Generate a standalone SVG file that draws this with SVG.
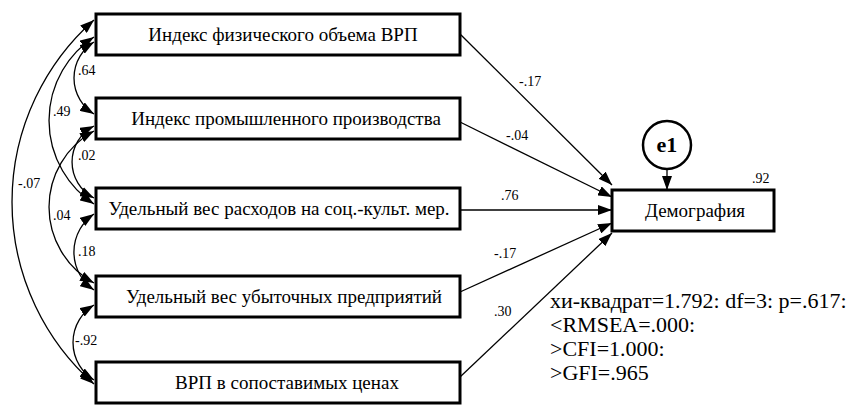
<svg xmlns="http://www.w3.org/2000/svg" width="851" height="412" viewBox="0 0 851 412" font-family="'Liberation Serif', 'DejaVu Serif', serif">
<defs>
<marker id="ah" markerUnits="userSpaceOnUse" markerWidth="14" markerHeight="10" refX="14" refY="5" orient="auto-start-reverse"><path d="M0,0 L14,5 L0,10 z" fill="#000"/></marker>
<style>
.box{fill:#fff;stroke:#000;stroke-width:3}
.t{font-size:19px;fill:#000}
.lb{font-size:14px;fill:#000}
.fit{font-size:22px;fill:#000}
.c{fill:none;stroke:#000;stroke-width:1.3;marker-end:url(#ah)}
.cv{fill:none;stroke:#000;stroke-width:1.3;marker-start:url(#ah);marker-end:url(#ah)}
</style>
</defs>
<rect width="851" height="412" fill="#fff"/>
<g id="connectors">
<path class="cv" d="M94,42 A42.4,42.4 0 0 0 94,114"/>
<path class="cv" d="M94,37 A100,100 0 0 0 94,204"/>
<path class="cv" d="M94,20 A243,243 0 0 0 94,384"/>
<path class="cv" d="M94,126 A40.5,40.5 0 0 0 94,198"/>
<path class="cv" d="M94,131 A86.7,86.7 0 0 0 94,283"/>
<path class="cv" d="M94,214 A46,46 0 0 0 94,290"/>
<path class="cv" d="M94,305 A44,44 0 0 0 94,380"/>
<line class="c" x1="460" y1="34" x2="612" y2="185"/>
<line class="c" x1="460" y1="122" x2="612" y2="197"/>
<line class="c" x1="460" y1="210" x2="612" y2="210"/>
<line class="c" x1="460" y1="292" x2="612" y2="223"/>
<line class="c" x1="460" y1="377" x2="612" y2="233"/>
<line class="c" x1="667" y1="169" x2="667" y2="190"/>
<text class="lb" x="78" y="75">.64</text>
<text class="lb" x="53" y="116">.49</text>
<text class="lb" x="78" y="160">.02</text>
<text class="lb" x="18" y="188">-.07</text>
<text class="lb" x="53" y="220">.04</text>
<text class="lb" x="78" y="256">.18</text>
<text class="lb" x="75" y="345">-.92</text>
<text class="lb" x="519" y="86">-.17</text>
<text class="lb" x="506" y="140">-.04</text>
<text class="lb" x="501" y="200">.76</text>
<text class="lb" x="494" y="258">-.17</text>
<text class="lb" x="494" y="316">.30</text>
</g>
<g id="n1"><rect class="box" x="96" y="14" width="364" height="41"/><text class="t" x="283" y="41" text-anchor="middle">Индекс физического объема ВРП</text></g>
<g id="n2"><rect class="box" x="96" y="98" width="364" height="41"/><text class="t" x="286" y="125" text-anchor="middle">Индекс промышленного производства</text></g>
<g id="n3"><rect class="box" x="96" y="188" width="364" height="41"/><text class="t" x="279" y="215" text-anchor="middle">Удельный вес расходов на соц.-культ. мер.</text></g>
<g id="n4"><rect class="box" x="96" y="276" width="364" height="41"/><text class="t" x="284" y="303" text-anchor="middle">Удельный вес убыточных предприятий</text></g>
<g id="n5"><rect class="box" x="96" y="362" width="364" height="41"/><text class="t" x="287" y="389" text-anchor="middle">ВРП в сопоставимых ценах</text></g>
<g id="dem"><rect class="box" x="612" y="190" width="162" height="41"/><text class="t" x="695" y="217" text-anchor="middle">Демография</text><text class="lb" x="752" y="183">.92</text></g>
<g id="e1"><circle cx="667" cy="145" r="24" fill="#fff" stroke="#000" stroke-width="2.5"/><text x="667" y="152" text-anchor="middle" font-size="22" font-weight="bold">e1</text></g>
<g id="fit">
<text class="fit" x="550" y="308">хи-квадрат=1.792: df=3: p=.617:</text>
<text class="fit" x="550" y="332">&lt;RMSEA=.000:</text>
<text class="fit" x="550" y="356">&gt;CFI=1.000:</text>
<text class="fit" x="550" y="380">&gt;GFI=.965</text>
</g>
</svg>
